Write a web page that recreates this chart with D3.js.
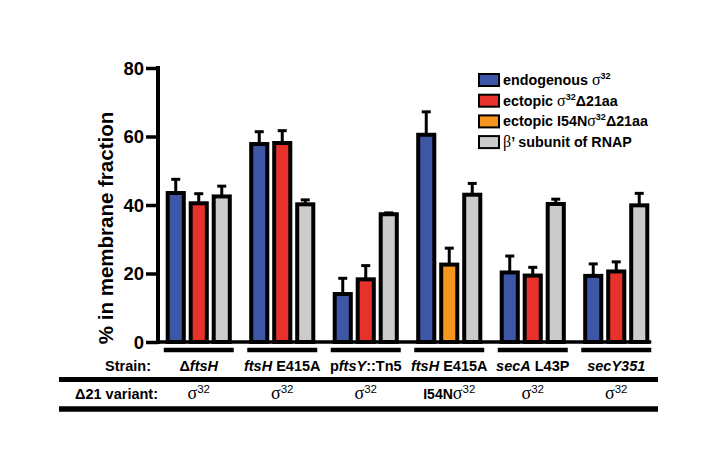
<!DOCTYPE html>
<html>
<head>
<meta charset="utf-8">
<script src="https://cdn.jsdelivr.net/npm/d3@7"></script>
<style>
  body { margin: 0; background: #fff; }
  svg text { font-family: "Liberation Sans", Arial, sans-serif; font-weight: bold; fill: #000; }
</style>
</head>
<body>
<svg id="chart" width="718" height="472"></svg>
<script>
// strain labels, split in [text, italic] pieces
var strains = [
  [["\u0394", 0], ["ftsH", 1]],
  [["ftsH", 1], [" E415A", 0]],
  [["p", 0], ["ftsY", 1], ["::Tn5", 0]],
  [["ftsH", 1], [" E415A", 0]],
  [["secA", 1], [" L43P", 0]],
  [["secY351", 1]]
];
var variantPrefix = ["", "", "", "I54N", "", ""];

var seriesNames = ["endogenous", "ectopic", "ectopicI54N", "beta"];
var seriesColors = ["#3e56a6", "#e6322a", "#f6961f", "#cbcbcb"];
var seriesSlot = ["a", "b", "b", "c"];

var endogenous    = [43.5, 57.8, 14.0, 60.5, 20.3, 19.3];
var endogenousErr = [4.0, 3.6, 4.6, 6.7, 4.8, 3.5];
var ectopic       = [40.5, 58.1, 18.3, null, 19.4, 20.6];
var ectopicErr    = [2.8, 3.6, 4.0, null, 2.4, 2.8];
var ectopicI54N   = [null, null, null, 22.6, null, null];
var ectopicI54NErr= [null, null, null, 4.8, null, null];
var betaPrime     = [42.5, 40.2, 37.3, 43.0, 40.3, 39.9];
var betaPrimeErr  = [3.0, 1.3, 0.4, 3.3, 1.4, 3.5];

var yTicks = [0, 20, 40, 60, 80];

// legend labels, pieces: b = bold sans, s = serif symbol, p = superscript
var legendLabels = [
  [["endogenous ", "b"], ["\u03c3", "s"], ["32", "p"]],
  [["ectopic ", "b"], ["\u03c3", "s"], ["32", "p"], ["\u039421aa", "b"]],
  [["ectopic I54N", "b"], ["\u03c3", "s"], ["32", "p"], ["\u039421aa", "b"]],
  [["\u03b2", "s"], ["\u2019 subunit of RNAP", "b"]]
];

var values = [endogenous, ectopic, ectopicI54N, betaPrime];
var errors = [endogenousErr, ectopicErr, ectopicI54NErr, betaPrimeErr];

var svg = d3.select("#chart");

var x = d3.scaleBand().domain(d3.range(strains.length)).range([157, 658]);
var inner = d3.scaleBand().domain(["a", "b", "c"])
    .range([x.bandwidth() / 2 - 34.5, x.bandwidth() / 2 + 34.5])
    .paddingInner(0.3).paddingOuter(0.15);
var y = d3.scaleLinear().domain([0, 80]).range([342, 68]);

// bars + error bars
var bars = [];
seriesNames.forEach(function(s, si) {
  values[si].forEach(function(v, gi) {
    if (v == null) return;
    bars.push({s: si, g: gi, v: v, e: errors[si][gi]});
  });
});

var bx = function(d) { return x(d.g) + inner(seriesSlot[d.s]); };

var eb = svg.append("g");
eb.selectAll("line.stem").data(bars).enter().append("line")
    .attr("x1", function(d) { return bx(d) + inner.bandwidth() / 2; })
    .attr("x2", function(d) { return bx(d) + inner.bandwidth() / 2; })
    .attr("y1", function(d) { return y(d.v); })
    .attr("y2", function(d) { return y(d.v + d.e); })
    .attr("stroke", "#000").attr("stroke-width", 3);
eb.selectAll("line.cap").data(bars).enter().append("line")
    .attr("x1", function(d) { return bx(d) + inner.bandwidth() / 2 - 4.5; })
    .attr("x2", function(d) { return bx(d) + inner.bandwidth() / 2 + 4.5; })
    .attr("y1", function(d) { return y(d.v + d.e); })
    .attr("y2", function(d) { return y(d.v + d.e); })
    .attr("stroke", "#000").attr("stroke-width", 3);

svg.append("g").selectAll("rect").data(bars).enter().append("rect")
    .attr("x", bx)
    .attr("width", inner.bandwidth())
    .attr("y", function(d) { return y(d.v); })
    .attr("height", function(d) { return y(0) - y(d.v); })
    .attr("fill", function(d) { return seriesColors[d.s]; })
    .attr("stroke", "#000").attr("stroke-width", 4);

// y axis
var yAxis = svg.append("g").attr("transform", "translate(158,0)")
    .call(d3.axisLeft(y).tickValues(yTicks).tickSize(12).tickSizeOuter(0).tickPadding(2));
yAxis.select(".domain").attr("stroke-width", 4).attr("d", "M0," + (y(80) - 2) + "V" + (y(0) + 2));
yAxis.selectAll(".tick line").attr("stroke-width", 3.5);
yAxis.selectAll(".tick text").style("font-size", "18.5px").attr("dy", "0.35em");

// x baseline
var xEnd = x(strains.length - 1) + x.bandwidth() / 2 + 35;
svg.append("line").attr("x1", 156).attr("x2", xEnd)
    .attr("y1", y(0)).attr("y2", y(0))
    .attr("stroke", "#000").attr("stroke-width", 3.5);

svg.append("text")
    .attr("transform", "translate(113," + 228 + ") rotate(-90)")
    .attr("text-anchor", "middle")
    .style("font-size", "20.5px")
    .text("% in membrane fraction");

// group underlines
svg.append("g").selectAll("line").data(strains).enter().append("line")
    .attr("x1", function(d, i) { return x(i) + x.bandwidth() / 2 - 35; })
    .attr("x2", function(d, i) { return x(i) + x.bandwidth() / 2 + 35; })
    .attr("y1", 350).attr("y2", 350)
    .attr("stroke", "#000").attr("stroke-width", 4.5);

// strain row
svg.append("text").attr("x", 151).attr("y", 370.5).attr("text-anchor", "end")
    .style("font-size", "14.5px").text("Strain:");
var st = svg.append("g").selectAll("text").data(strains).enter().append("text")
    .attr("x", function(d, i) { return x(i) + x.bandwidth() / 2; })
    .attr("y", 370.5).attr("text-anchor", "middle").style("font-size", "14.5px");
st.selectAll("tspan").data(function(d) { return d; }).enter().append("tspan")
    .style("font-style", function(p) { return p[1] ? "italic" : "normal"; })
    .text(function(p) { return p[0]; });

svg.append("line").attr("x1", 59).attr("x2", 658).attr("y1", 379.5).attr("y2", 379.5)
    .attr("stroke", "#000").attr("stroke-width", 5);

// variant row
svg.append("text").attr("x", 158).attr("y", 398.5).attr("text-anchor", "end")
    .style("font-size", "14.5px").text("\u039421 variant:");
var vt = svg.append("g").selectAll("text").data(variantPrefix).enter().append("text")
    .attr("x", function(d, i) { return x(i) + x.bandwidth() / 2; })
    .attr("y", 398.5).attr("text-anchor", "middle").style("font-size", "14px");
vt.append("tspan").text(function(d) { return d; });
vt.append("tspan").style("font-family", "'Liberation Serif', serif").style("font-weight", "normal")
    .style("font-size", "18px").text("\u03c3");
vt.append("tspan").attr("dy", -6).style("font-size", "11.5px").style("font-weight", "normal").text("32");

svg.append("line").attr("x1", 59).attr("x2", 658).attr("y1", 409).attr("y2", 409)
    .attr("stroke", "#000").attr("stroke-width", 5.5);

// legend
var legendSeries = [0, 1, 2, 3];
var lg = svg.append("g").selectAll("g").data(legendSeries).enter().append("g")
    .attr("transform", function(d, i) { return "translate(479," + (74 + i * 20.7) + ")"; });
lg.append("rect").attr("width", 20).attr("height", 12)
    .attr("fill", function(d) { return seriesColors[d]; })
    .attr("stroke", "#000").attr("stroke-width", 2);
var lt = lg.append("text").attr("x", 24).attr("y", 11).style("font-size", "14.3px");
lt.each(function(d) {
  var t = d3.select(this), up = false;
  legendLabels[d].forEach(function(p) {
    var ts = t.append("tspan").text(p[0]);
    if (p[1] === "s") ts.style("font-family", "'Liberation Serif', serif").style("font-weight", "normal").style("font-size", "16px");
    if (p[1] === "p") { ts.attr("dy", -6).style("font-size", "9px"); up = true; }
    else if (up) { ts.attr("dy", 6); up = false; }
  });
});
</script>
</body>
</html>
